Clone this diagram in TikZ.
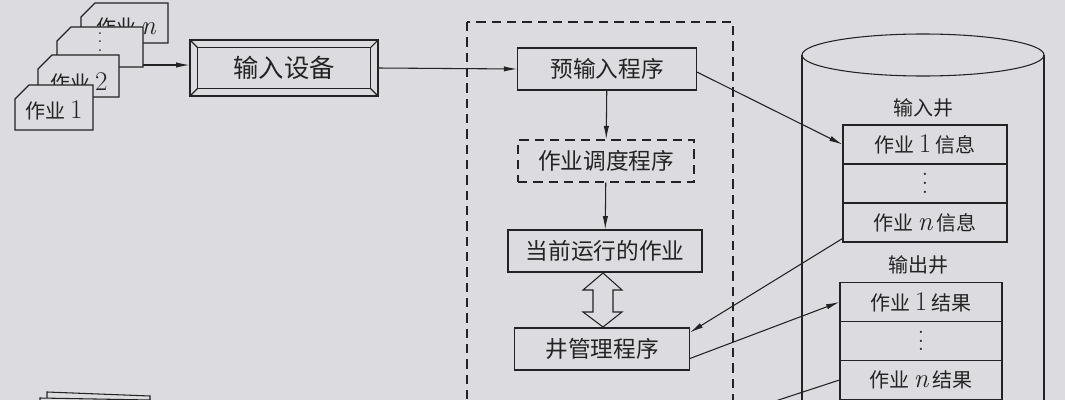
\documentclass[tikz,border=0pt]{standalone}
\usepackage{fontspec}
\newfontfamily\cjk{Noto Sans CJK SC}
\newfontfamily\latf{Latin Modern Roman}[Scale=1.35]
\usetikzlibrary{arrows.meta,calc}
\definecolor{paper}{RGB}{220,220,224}
\definecolor{ink}{RGB}{35,35,35}
\newcommand\lat[1]{{\latf #1}}
\newcommand\itn{{\latf\itshape n}}
\newcommand\vdts{{\latf\vbox{\baselineskip6.5pt\lineskiplimit0pt\hbox{.}\hbox{.}\hbox{.}}}}

\begin{document}
\begin{tikzpicture}[x=0.75pt,y=-0.75pt,line width=0.8pt,draw=ink,text=ink,
  box/.style={rectangle,draw,inner sep=0pt,minimum height=31.5pt,font=\cjk\fontsize{17}{20}\selectfont},
  cell/.style={rectangle,draw,inner sep=0pt,minimum height=29.25pt,font=\cjk\fontsize{15}{18}\selectfont},
  lbl/.style={font=\cjk\fontsize{15}{18}\selectfont},
  card/.style={draw,fill=paper},
  frame/.style={dash pattern=on 7pt off 4.5pt,line width=1.1pt},
  arr/.style={-{Latex[length=10pt,width=4pt]}}]
\useasboundingbox (0,0) rectangle (1065,400);
\clip (0,0) rectangle (1065,400);
\fill[paper] (0,0) rectangle (1065,400);

% job cards
\draw[card] (81,17) -- (95,3) -- (168,3) -- (168,43) -- (81,43) -- cycle;
\node[lbl] (v1) at (126,27) {作业 \itn};
\draw[card] (57,41) -- (71,27) -- (143,27) -- (143,67) -- (57,67) -- cycle;
\node[inner sep=0pt] (v2) at (100,42) {\vdts};
\draw[card] (38,69) -- (52,55) -- (119,55) -- (119,97) -- (38,97) -- cycle;
\node[lbl] (v3) at (79,82) {作业 \lat{2}};
\draw[card] (15,99) -- (29,85) -- (93,85) -- (93,130) -- (15,130) -- cycle;
\node[lbl] (v4) at (54,110) {作业 \lat{1}};
\coordinate (c1) at (143,65);

% output cards (cut off)
\draw[card] (47,440) -- (47,392) -- (150,396) -- (150,440);
\draw[card] (40,440) -- (40,398) -- (150,400) -- (150,440);

% input device
\node[box,minimum width=141pt,minimum height=42pt,font=\cjk\fontsize{19}{22}\selectfont] (v5) at (284,68) {输入设备};
\draw ([shift={(6pt,-6pt)}]v5.north west) rectangle ([shift={(-6pt,6pt)}]v5.south east);
\foreach \a/\s in {north west/{6pt,-6pt},north east/{-6pt,-6pt},south east/{-6pt,6pt},south west/{6pt,6pt}}
  \draw (v5.\a) -- ([shift={(\s)}]v5.\a);

% spooling system
\draw[frame] (467,22) rectangle (733,440);
\node[box,minimum width=134pt] (v6) at (607,69) {预输入程序};
\node[box,frame,minimum width=132pt] (v7) at (606,161) {作业调度程序};
\node[box,minimum width=145.5pt] (v8) at (605,251) {当前运行的作业};
\node[box,minimum width=131pt] (v9) at (602,349) {井管理程序};
\draw (593,290) -- (583,290) -- (603,273) -- (622,290) -- (613,290) -- (613,312)
  -- (622,312) -- (603,327) -- (583,312) -- (593,312) -- cycle;

% disk
\draw (802,55) -- (802,440);
\draw (1044,55) -- (1044,440);
\draw (923,55) ellipse (121 and 21);
\node[lbl] (v10) at (923,108) {输入井};
\node[cell,minimum width=123pt] (v11) at (925,144.5) {作业 \lat{1} 信息};
\node[cell,minimum width=123pt] (v12) at (925,183.5) {\vdts};
\node[cell,minimum width=123pt] (v13) at (925,222.5) {作业 \itn{} 信息};
\node[lbl] (v14) at (918,265) {输出井};
\node[cell,minimum width=121.5pt] (v15) at (921,302) {作业 \lat{1} 结果};
\node[cell,minimum width=121.5pt] (v16) at (921,341) {\vdts};
\node[cell,minimum width=121.5pt] (v17) at (921,380) {作业 \itn{} 结果};
\coordinate (c2) at (687,430);

\draw[arr] (c1) -- ($(v5.west)+(0,-3)$);
\draw[arr] (v5.east) -- (v6.west);
\draw[arr] (v6) -- (v7);
\draw[arr] (v7) -- (v8);
\draw[arr] ($(v6.east)+(0,3)$) -- (v11.west);
\draw[arr] ($(v13.south west)+(0,-4)$) -- ($(v9.north east)+(0,5)$);
\draw[arr] ($(v9.south east)+(0,-12)$) -- (v15.west);
\draw (v17.west) -- (c2);
\end{tikzpicture}
\end{document}
